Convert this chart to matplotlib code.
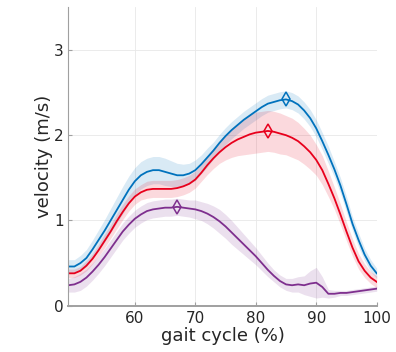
import numpy as np
import matplotlib
matplotlib.use("Agg")
import matplotlib.pyplot as plt

gait = list(range(49, 101))

blue_mean = [0.46, 0.46, 0.50, 0.56, 0.66, 0.77, 0.88, 1.00, 1.12, 1.24,
             1.36, 1.46, 1.53, 1.57, 1.59, 1.59, 1.57, 1.55, 1.53, 1.53,
             1.55, 1.59, 1.66, 1.74, 1.82, 1.91, 1.99, 2.06, 2.12, 2.18,
             2.23, 2.28, 2.33, 2.37, 2.39, 2.41, 2.42, 2.40, 2.36, 2.29,
             2.20, 2.08, 1.93, 1.77, 1.60, 1.41, 1.19, 0.96, 0.77, 0.60,
             0.47, 0.38]
blue_sd = [0.08, 0.08, 0.09, 0.10, 0.11, 0.12, 0.13, 0.14, 0.15, 0.16,
           0.16, 0.16, 0.16, 0.16, 0.16, 0.16, 0.16, 0.15, 0.14, 0.13,
           0.12, 0.12, 0.11, 0.11, 0.10, 0.10, 0.10, 0.10, 0.10, 0.10,
           0.10, 0.10, 0.10, 0.10, 0.10, 0.10, 0.10, 0.10, 0.10, 0.10,
           0.10, 0.10, 0.10, 0.10, 0.09, 0.09, 0.09, 0.08, 0.08, 0.07,
           0.07, 0.06]

red_mean = [0.38, 0.38, 0.41, 0.47, 0.55, 0.65, 0.76, 0.87, 0.99, 1.10,
            1.20, 1.28, 1.33, 1.36, 1.37, 1.37, 1.37, 1.37, 1.38, 1.40,
            1.43, 1.48, 1.56, 1.65, 1.73, 1.80, 1.86, 1.91, 1.95, 1.98,
            2.01, 2.03, 2.04, 2.05, 2.04, 2.02, 2.00, 1.97, 1.93, 1.87,
            1.80, 1.71, 1.59, 1.43, 1.26, 1.07, 0.87, 0.68, 0.52, 0.41,
            0.33, 0.28]
red_sd = [0.05, 0.05, 0.05, 0.06, 0.06, 0.07, 0.08, 0.08, 0.09, 0.09,
          0.09, 0.09, 0.09, 0.10, 0.10, 0.10, 0.10, 0.10, 0.10, 0.10,
          0.10, 0.10, 0.10, 0.11, 0.12, 0.13, 0.15, 0.17, 0.19, 0.21,
          0.23, 0.24, 0.24, 0.24, 0.24, 0.24, 0.23, 0.23, 0.22, 0.21,
          0.20, 0.18, 0.17, 0.15, 0.13, 0.12, 0.11, 0.10, 0.09, 0.08,
          0.07, 0.07]

purple_mean = [0.24, 0.25, 0.28, 0.33, 0.40, 0.48, 0.57, 0.67, 0.77, 0.87,
               0.95, 1.02, 1.07, 1.11, 1.13, 1.14, 1.15, 1.15, 1.16, 1.15,
               1.14, 1.13, 1.11, 1.08, 1.04, 0.99, 0.93, 0.86, 0.79, 0.72,
               0.65, 0.58, 0.50, 0.42, 0.35, 0.29, 0.25, 0.24, 0.25, 0.24,
               0.26, 0.27, 0.22, 0.14, 0.14, 0.15, 0.15, 0.16, 0.17, 0.18,
               0.19, 0.20]
purple_sd = [0.08, 0.09, 0.10, 0.10, 0.10, 0.10, 0.10, 0.10, 0.10, 0.10,
             0.10, 0.10, 0.10, 0.10, 0.10, 0.10, 0.10, 0.10, 0.10, 0.10,
             0.10, 0.11, 0.11, 0.12, 0.13, 0.14, 0.14, 0.14, 0.13, 0.12,
             0.11, 0.10, 0.09, 0.08, 0.07, 0.07, 0.07, 0.08, 0.09, 0.11,
             0.15, 0.18, 0.12, 0.05, 0.04, 0.03, 0.03, 0.03, 0.03, 0.03,
             0.03, 0.03]

series = [
    (blue_mean, blue_sd, "#0072BD"),
    (red_mean, red_sd, "#E8001C"),
    (purple_mean, purple_sd, "#7E2F8E"),
]

fig = plt.figure(figsize=(3.96, 3.52), dpi=100)
ax = fig.add_axes([0.1725, 0.1315, 0.7788, 0.8477])

x = np.array(gait)
for mean, sd, col in series:
    m = np.array(mean)
    s = np.array(sd)
    ax.fill_between(x, m - s, m + s, color=col, alpha=0.15, linewidth=0)
for mean, sd, col in series:
    m = np.array(mean)
    ax.plot(x, m, color=col, lw=1.3)
    i = int(np.argmax(m))
    ax.plot(x[i], m[i], marker="d", ms=7, mfc="none", mec=col, mew=1.1)

ax.set_xlim(49, 100)
ax.set_ylim(0, 3.5)
ax.set_xticks([60, 70, 80, 90, 100])
ax.set_yticks([0, 1, 2, 3])
ax.grid(True, color="#e8e8e8", lw=0.6)
ax.set_axisbelow(True)
for s in ["top", "right"]:
    ax.spines[s].set_visible(False)
ax.spines["left"].set_color("#a0a0a0")
ax.spines["bottom"].set_color("#a0a0a0")
ax.spines["left"].set_linewidth(0.8)
ax.spines["bottom"].set_linewidth(1.4)
ax.tick_params(direction="in", length=3, colors="#a0a0a0", labelcolor="#262626",
               labelsize=11)
ax.set_xlabel("gait cycle (%)", fontsize=13, color="#262626", labelpad=1)
ax.set_ylabel("velocity (m/s)", fontsize=13, color="#262626", labelpad=0.5)

fig.savefig("out.png", dpi=100)
